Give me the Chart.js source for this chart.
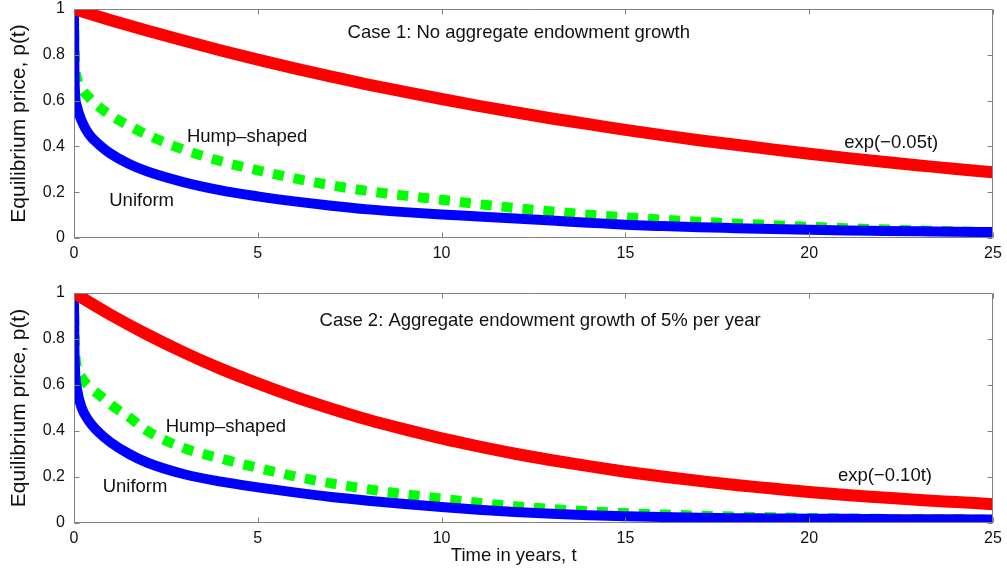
<!DOCTYPE html>
<html>
<head>
<meta charset="utf-8">
<script src="https://cdn.jsdelivr.net/npm/chart.js@4.4.1/dist/chart.umd.min.js"></script>
<style>
  html, body { margin: 0; padding: 0; background: #fff; width: 1007px; height: 569px; overflow: hidden; }
  canvas { position: absolute; left: 0; }
  #c1 { top: 0; }
  #c2 { top: 270px; }
</style>
</head>
<body>
<canvas id="c1" width="1007" height="270"></canvas>
<canvas id="c2" width="1007" height="299"></canvas>
<script>
// Sample times (years) for the two model price paths
const times = [0, 0.01, 0.03, 0.08, 0.2, 0.4, 0.7, 1, 1.5, 2, 3, 4, 5, 6, 7, 8, 9, 10,
               11, 12, 13, 14, 15, 16, 17, 18, 19, 20, 21, 22, 23, 24, 25];
// Whole years for the exponential benchmarks
const years = [0, 1, 2, 3, 4, 5, 6, 7, 8, 9, 10, 11, 12, 13, 14, 15, 16, 17, 18, 19, 20, 21, 22, 23, 24, 25];

// Case 1: no aggregate endowment growth
const uniform1 = [1.0, 0.75, 0.63, 0.575, 0.515, 0.455, 0.405, 0.368, 0.323, 0.29, 0.243, 0.208, 0.182, 0.16,
                  0.141, 0.125, 0.113, 0.103, 0.094, 0.085, 0.076, 0.067, 0.058, 0.052, 0.047, 0.043,
                  0.039, 0.036, 0.033, 0.031, 0.029, 0.027, 0.026];
const hump1 = [1.0, 0.86, 0.76, 0.7, 0.655, 0.615, 0.57, 0.535, 0.49, 0.45, 0.385, 0.335, 0.295, 0.26,
               0.23, 0.205, 0.185, 0.167, 0.148, 0.131, 0.116, 0.102, 0.09, 0.08, 0.071, 0.063,
               0.056, 0.049, 0.043, 0.038, 0.033, 0.029, 0.026];
const exp05 = [1.0, 0.951, 0.905, 0.861, 0.819, 0.779, 0.741, 0.705, 0.670, 0.638, 0.607, 0.577, 0.549,
               0.522, 0.497, 0.472, 0.449, 0.427, 0.407, 0.387, 0.368, 0.350, 0.333, 0.317, 0.301, 0.287];

// Case 2: aggregate endowment growth of 5% per year
const uniform2 = [1.0, 0.78, 0.66, 0.585, 0.505, 0.445, 0.39, 0.35, 0.3, 0.262, 0.212, 0.18, 0.155, 0.133,
                  0.113, 0.097, 0.083, 0.07, 0.058, 0.048, 0.04, 0.034, 0.029, 0.026, 0.023, 0.021,
                  0.02, 0.019, 0.018, 0.017, 0.016, 0.016, 0.015];
const hump2 = [1.0, 0.85, 0.75, 0.68, 0.635, 0.595, 0.555, 0.515, 0.46, 0.40, 0.325, 0.28, 0.24, 0.203,
               0.172, 0.147, 0.125, 0.106, 0.088, 0.073, 0.061, 0.051, 0.043, 0.037, 0.032, 0.028,
               0.025, 0.022, 0.02, 0.018, 0.017, 0.016, 0.015];
const exp10 = [1.0, 0.905, 0.819, 0.741, 0.670, 0.607, 0.549, 0.497, 0.449, 0.407, 0.368, 0.333, 0.301,
               0.273, 0.247, 0.223, 0.202, 0.183, 0.165, 0.150, 0.135, 0.122, 0.111, 0.100, 0.091, 0.082];

const xTicks = [0, 5, 10, 15, 20, 25];
const xTickLabels = ['0', '5', '10', '15', '20', '25'];
const yTicks = [0, 0.2, 0.4, 0.6, 0.8, 1];
const yTickLabels = ['0', '0.2', '0.4', '0.6', '0.8', '1'];

const FONT = '"Liberation Sans", Arial, Helvetica, sans-serif';
Chart.defaults.font.family = FONT;
Chart.defaults.color = '#111';

const pairs = (xs, ys) => ys.map((v, i) => ({ x: xs[i], y: v }));

// Box frame with inward-pointing ticks on all four sides
const framePlugin = {
  id: 'frame',
  afterDatasetsDraw(chart) {
    const { ctx, chartArea: a, scales: { x, y } } = chart;
    ctx.save();
    ctx.strokeStyle = '#808080';
    ctx.lineWidth = 1;
    ctx.beginPath();
    const L = Math.round(a.left) + 0.5, R = Math.round(a.right) - 0.5;
    const T = Math.round(a.top) + 0.5, B = Math.round(a.bottom) - 0.5;
    ctx.rect(L, T, R - L, B - T);
    const len = 5;
    xTicks.forEach(v => {
      const px = Math.round(x.getPixelForValue(v)) + 0.5;
      ctx.moveTo(px, B); ctx.lineTo(px, B - len);
      ctx.moveTo(px, T); ctx.lineTo(px, T + len);
    });
    yTicks.forEach(v => {
      const py = Math.round(y.getPixelForValue(v)) + 0.5;
      ctx.moveTo(L, py); ctx.lineTo(L + len, py);
      ctx.moveTo(R, py); ctx.lineTo(R - len, py);
    });
    ctx.stroke();
    ctx.restore();
  }
};

// Text notes placed in data coordinates
const notesPlugin = {
  id: 'notes',
  afterDatasetsDraw(chart, args, opts) {
    const { ctx, scales: { x, y } } = chart;
    ctx.save();
    ctx.fillStyle = '#111';
    ctx.textAlign = 'center';
    ctx.textBaseline = 'middle';
    (opts.items || []).forEach(n => {
      ctx.font = `${n.size}px ${FONT}`;
      ctx.fillText(n.text, x.getPixelForValue(n.t), y.getPixelForValue(n.p));
    });
    ctx.restore();
  }
};

function makePanel(canvasId, cfg) {
  return new Chart(document.getElementById(canvasId), {
    type: 'line',
    data: {
      datasets: [
        { data: pairs(years, cfg.expo), borderColor: '#ff0000', borderWidth: 12 },
        { data: pairs(times, cfg.uniform), borderColor: '#0000ff', borderWidth: 10 },
        { data: pairs(times, cfg.hump), borderColor: '#00ff00', borderWidth: 10,
          borderDash: [11, 10], borderCapStyle: 'butt' }
      ]
    },
    options: {
      responsive: false,
      animation: false,
      events: [],
      layout: { padding: { top: cfg.padTop, right: 14, left: 0, bottom: 0 } },
      elements: {
        point: { radius: 0 },
        line: { cubicInterpolationMode: 'monotone', borderCapStyle: 'butt', borderJoinStyle: 'round' }
      },
      datasets: { line: { clip: 0 } },
      scales: {
        x: {
          type: 'linear', min: 0, max: 25,
          afterBuildTicks: s => { s.ticks = xTicks.map(v => ({ value: v })); },
          afterFit: s => { s.height = cfg.xHeight; s.paddingLeft = 0; s.paddingRight = 0; },
          grid: { display: false, drawTicks: false },
          border: { display: false },
          ticks: { font: { size: 16 }, padding: 6, maxRotation: 0, color: '#111',
                   callback: (v, i) => xTickLabels[i] },
        },
        y: {
          min: 0, max: 1,
          afterBuildTicks: s => { s.ticks = yTicks.map(v => ({ value: v })); },
          afterFit: s => { s.width = 74; s.paddingTop = 0; s.paddingBottom = 0; },
          grid: { display: false, drawTicks: false },
          border: { display: false },
          ticks: { font: { size: 16 }, padding: 9, color: '#111',
                   callback: (v, i) => yTickLabels[i] },
          title: { display: true, text: 'Equilibrium price, p(t)', font: { size: 21 }, color: '#111',
                   padding: { top: 7, bottom: 0 } }
        }
      },
      plugins: {
        legend: { display: false },
        tooltip: { enabled: false },
        notes: { items: cfg.notes }
      }
    },
    plugins: [framePlugin, notesPlugin]
  });
}

makePanel('c1', {
  expo: exp05, uniform: uniform1, hump: hump1,
  padTop: 9, xHeight: 32,
  notes: [
    { text: 'Case 1: No aggregate endowment growth', t: 12.1, p: 0.895, size: 18.5 },
    { text: 'Hump\u2013shaped', t: 4.71, p: 0.443, size: 18.5 },
    { text: 'Uniform', t: 1.84, p: 0.16, size: 18.5 },
    { text: 'exp(\u22120.05t)', t: 22.23, p: 0.414, size: 18.5 }
  ]
});

makePanel('c2', {
  expo: exp10, uniform: uniform2, hump: hump2,
  padTop: 23, xHeight: 46,
  notes: [
    { text: 'Case 2: Aggregate endowment growth of 5% per year', t: 12.68, p: 0.88, size: 18.5 },
    { text: 'Hump\u2013shaped', t: 4.13, p: 0.419, size: 18.5 },
    { text: 'Uniform', t: 1.66, p: 0.159, size: 18.5 },
    { text: 'exp(\u22120.10t)', t: 22.06, p: 0.203, size: 18.5 },
    { text: 'Time in years, t', t: 11.96, p: -0.142, size: 18.5 }
  ]
});
</script>
</body>
</html>
